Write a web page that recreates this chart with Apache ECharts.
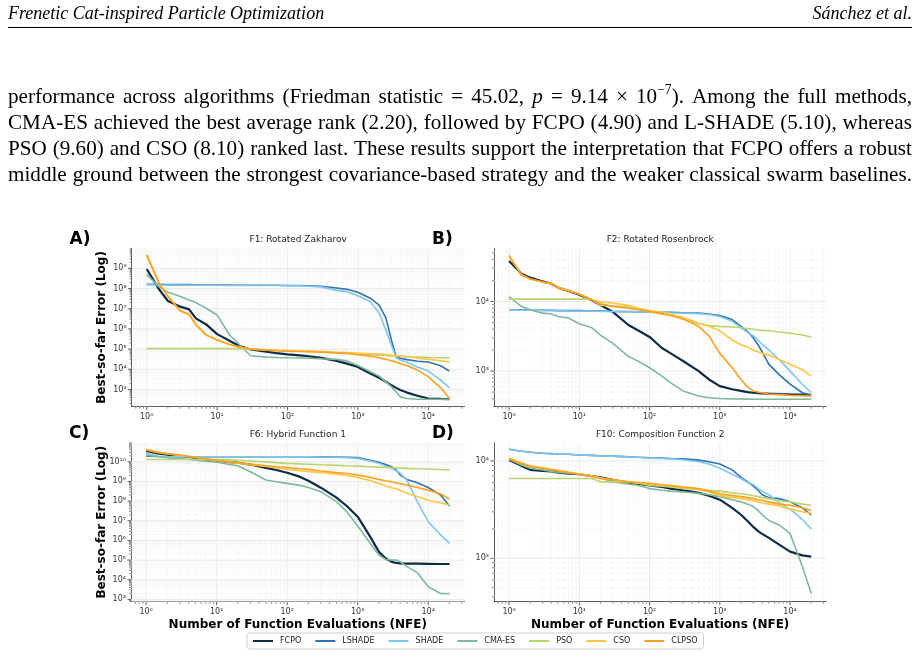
<!DOCTYPE html>
<html><head><meta charset="utf-8">
<script src="https://cdn.jsdelivr.net/npm/echarts@6/dist/echarts.min.js"></script>
<style>
html,body{margin:0;padding:0;background:#fff;}
#page{position:relative;width:920px;height:657px;overflow:hidden;background:#fff;}
#chart{position:absolute;left:0;top:0;width:920px;height:657px;}
.hdr{position:absolute;top:3px;font-family:'Liberation Serif','Times New Roman',serif;font-style:italic;font-size:18px;color:#000;white-space:nowrap;}
#rule{position:absolute;left:8px;top:27px;width:904px;height:0;border-top:1.2px solid #000;}
.pl{position:absolute;left:8px;width:932px;height:26px;line-height:26px;font-family:'Liberation Serif','Times New Roman',serif;font-size:21.8px;color:#000;display:flex;justify-content:space-between;white-space:nowrap;transform:scaleX(0.97);transform-origin:0 0;}
.pl sup{font-size:14px;line-height:0;vertical-align:0;position:relative;top:-9px;}
</style>
</head><body>
<div id="page">
<div id="chart"></div>
<div class="hdr" style="left:8px;">Frenetic Cat-inspired Particle Optimization</div>
<div class="hdr" style="right:8px;">Sánchez et al.</div>
<div id="rule"></div>
<div id="para"></div>
</div>
<script>
// ---------- page text ----------
const paraLines = [
 'performance across algorithms (Friedman statistic = 45.02, <i>p</i> = 9.14 × 10<sup>−7</sup>). Among the full methods,',
 'CMA-ES achieved the best average rank (2.20), followed by FCPO (4.90) and L-SHADE (5.10), whereas',
 'PSO (9.60) and CSO (8.10) ranked last. These results support the interpretation that FCPO offers a robust',
 'middle ground between the strongest covariance-based strategy and the weaker classical swarm baselines.'
];
const paraTops = [82.5, 108.5, 134.5, 160.5];

// ---------- data ----------
const algos = ['FCPO','LSHADE','SHADE','CMA-ES','PSO','CSO','CLPSO'];
const nfe = [1, 1.5, 2, 3, 4, 5, 7, 10, 15, 20, 30, 50, 70, 100, 150, 200, 300, 500, 700, 1000, 1500, 2000, 2500, 3000, 3500, 4000, 5000, 7000, 10000, 15000, 20000];

// F1: Rotated Zakharov
const f1_FCPO   = [9.3e8, 9.1e7, 2.4e7, 1.26e7, 9.3e6, 3.3e6, 1.66e6, 5.5e5, 2.6e5, 1.5e5, 9.5e4, 7.4e4, 6.3e4, 5.5e4, 4.9e4, 4.4e4, 3.7e4, 2.6e4, 1.9e4, 1.3e4, 6.2e3, 3.8e3, 2.4e3, 1.6e3, 1.2e3, 950, 700, 490, 355, 340, 330];
const f1_LSHADE = [1.6e8, 1.6e8, 1.55e8, 1.55e8, 1.55e8, 1.5e8, 1.5e8, 1.5e8, 1.5e8, 1.45e8, 1.45e8, 1.45e8, 1.45e8, 1.4e8, 1.4e8, 1.35e8, 1.3e8, 1.05e8, 9.1e7, 6.5e7, 3.3e7, 1.5e7, 3.5e6, 2.7e5, 4.2e4, 3.5e4, 3e4, 2.5e4, 2.3e4, 1.5e4, 8.1e3];
const f1_SHADE  = [1.55e8, 1.5e8, 1.5e8, 1.5e8, 1.45e8, 1.45e8, 1.45e8, 1.45e8, 1.4e8, 1.4e8, 1.4e8, 1.4e8, 1.4e8, 1.35e8, 1.35e8, 1.3e8, 1.2e8, 8.1e7, 6.9e7, 4.4e7, 2.2e7, 6.3e6, 8.7e5, 1.6e5, 3.7e4, 2.9e4, 2.2e4, 1.3e4, 8.1e3, 2.9e3, 1.2e3];
const f1_CMAES  = [5e8, 1.2e8, 6.5e7, 4e7, 2.7e7, 2e7, 1.05e7, 4.9e6, 5e5, 1.9e5, 4.7e4, 4e4, 3.8e4, 3.7e4, 3.6e4, 3.5e4, 3.3e4, 3.1e4, 2.6e4, 1.55e4, 7.6e3, 4.6e3, 2.4e3, 1.35e3, 760, 430, 355, 330, 330, 330, 330];
const f1_PSO    = [1.05e5, 1.05e5, 1.05e5, 1.05e5, 1.05e5, 1.05e5, 1.05e5, 1.05e5, 1.05e5, 1.05e5, 1.02e5, 9.2e4, 8.8e4, 8.5e4, 8e4, 7.7e4, 7.2e4, 6.6e4, 6.2e4, 5.8e4, 5.4e4, 5e4, 4.8e4, 4.6e4, 4.5e4, 4.4e4, 4.2e4, 4e4, 3.8e4, 3.7e4, 3.6e4];
const f1_CSO    = [4.4e9, 1.9e8, 4.2e7, 8e6, 5.5e6, 1.7e6, 5.2e5, 2.9e5, 1.75e5, 1.3e5, 1e5, 9.2e4, 8.8e4, 8.5e4, 8.1e4, 7.9e4, 7.5e4, 7e4, 6.7e4, 6.3e4, 5.9e4, 5.6e4, 5.3e4, 5e4, 4.8e4, 4.6e4, 4.2e4, 3.6e4, 3.1e4, 2.6e4, 2.3e4];
const f1_CLPSO  = [4.6e9, 1.8e8, 4e7, 7.6e6, 5.2e6, 1.55e6, 4.9e5, 2.8e5, 1.7e5, 1.26e5, 1e5, 8.9e4, 8.3e4, 7.9e4, 7.6e4, 7.4e4, 7.1e4, 6.5e4, 6e4, 5.2e4, 4.5e4, 3.7e4, 3.1e4, 2.6e4, 2.3e4, 1.95e4, 1.5e4, 9.1e3, 4.3e3, 1.2e3, 355];

// F2: Rotated Rosenbrock
const f2_FCPO   = [3.8e4, 2.5e4, 2.2e4, 1.94e4, 1.8e4, 1.58e4, 1.42e4, 1.25e4, 1.05e4, 8.9e3, 7.1e3, 4.6e3, 3.8e3, 3.1e3, 2.15e3, 1.8e3, 1.4e3, 1e3, 760, 610, 550, 520, 500, 490, 485, 480, 475, 470, 465, 460, 455];
const f2_LSHADE = [7.6e3, 7.6e3, 7.5e3, 7.5e3, 7.5e3, 7.4e3, 7.4e3, 7.4e3, 7.3e3, 7.3e3, 7.2e3, 7.2e3, 7.1e3, 7.1e3, 7e3, 7e3, 6.9e3, 6.8e3, 6.6e3, 6.3e3, 5.5e3, 4.4e3, 3.7e3, 3e3, 2.4e3, 1.9e3, 1.25e3, 890, 650, 490, 455];
const f2_SHADE  = [7.6e3, 7.5e3, 7.5e3, 7.4e3, 7.4e3, 7.4e3, 7.3e3, 7.3e3, 7.3e3, 7.2e3, 7.2e3, 7.1e3, 7.1e3, 7e3, 7e3, 6.9e3, 6.8e3, 6.7e3, 6.5e3, 6.1e3, 5.2e3, 4.2e3, 3.6e3, 3.2e3, 2.8e3, 2.45e3, 2e3, 1.47e3, 1e3, 650, 490];
const f2_CMAES  = [1.17e4, 8.5e3, 7.6e3, 6.8e3, 6.6e3, 6.1e3, 5.8e3, 4.8e3, 4.2e3, 3.3e3, 2.5e3, 1.63e3, 1.38e3, 1.12e3, 850, 680, 520, 440, 415, 405, 400, 398, 397, 396, 396, 395, 395, 395, 395, 395, 395];
const f2_PSO    = [1.08e4, 1.08e4, 1.08e4, 1.08e4, 1.08e4, 1.08e4, 1.08e4, 1.08e4, 1.08e4, 8.8e3, 8.7e3, 8.4e3, 7.8e3, 7.1e3, 6.6e3, 6.3e3, 5.6e3, 4.8e3, 4.5e3, 4.4e3, 4.3e3, 4.2e3, 4.1e3, 4e3, 3.9e3, 3.85e3, 3.8e3, 3.65e3, 3.5e3, 3.3e3, 3.1e3];
const f2_CSO    = [4.4e4, 2.45e4, 2.1e4, 1.9e4, 1.8e4, 1.6e4, 1.45e4, 1.28e4, 1.07e4, 9.8e3, 9.5e3, 8.8e3, 8e3, 7.4e3, 7e3, 6.6e3, 5.9e3, 4.9e3, 4.4e3, 3.8e3, 2.8e3, 2.4e3, 2.2e3, 2e3, 1.9e3, 1.8e3, 1.7e3, 1.47e3, 1.26e3, 1.05e3, 850];
const f2_CLPSO  = [4.6e4, 2.4e4, 2.1e4, 1.9e4, 1.82e4, 1.55e4, 1.42e4, 1.27e4, 1.05e4, 9.2e3, 8.5e3, 8e3, 7.6e3, 7.2e3, 6.7e3, 6.3e3, 5.6e3, 4.4e3, 3.2e3, 1.8e3, 1.12e3, 760, 590, 520, 500, 490, 470, 460, 450, 445, 440];

// F6: Hybrid Function 1
const f6_FCPO   = [3.6e10, 2.6e10, 2.3e10, 1.95e10, 1.74e10, 1.55e10, 1.3e10, 1.12e10, 9.6e9, 8.9e9, 7.2e9, 4.9e9, 3.8e9, 2.75e9, 1.74e9, 1.07e9, 4.8e8, 1.5e8, 5.6e7, 1.6e7, 1.55e6, 2.6e5, 1.2e5, 8.3e4, 7.1e4, 6.8e4, 6.6e4, 6.5e4, 6.4e4, 6.3e4, 6.3e4];
const f6_LSHADE = [1.95e10, 1.85e10, 1.8e10, 1.8e10, 1.8e10, 1.8e10, 1.8e10, 1.8e10, 1.8e10, 1.8e10, 1.8e10, 1.8e10, 1.8e10, 1.8e10, 1.8e10, 1.8e10, 1.75e10, 1.75e10, 1.7e10, 1.65e10, 1.2e10, 9.3e9, 7.3e9, 5.6e9, 3.8e9, 2.1e9, 1.26e9, 8.5e8, 4.9e8, 2e8, 5.6e7];
const f6_SHADE  = [2.6e10, 1.9e10, 1.8e10, 1.8e10, 1.8e10, 1.8e10, 1.8e10, 1.8e10, 1.8e10, 1.8e10, 1.8e10, 1.8e10, 1.8e10, 1.8e10, 1.8e10, 1.8e10, 1.75e10, 1.7e10, 1.6e10, 1.48e10, 1.08e10, 8.3e9, 6e9, 4.6e9, 3.5e9, 2.6e9, 1.17e9, 9.3e7, 8.9e6, 1.9e6, 7.1e5];
const f6_CMAES  = [2.2e10, 1.8e10, 1.6e10, 1.4e10, 1.3e10, 1.2e10, 1.08e10, 9.6e9, 7.2e9, 6.3e9, 3.1e9, 1.17e9, 9.6e8, 7.9e8, 6.3e8, 4.9e8, 3e8, 9.3e7, 2.9e7, 5.4e6, 7.1e5, 1.8e5, 1.07e5, 1e5, 1e5, 8.3e4, 4.6e4, 2.3e4, 4.4e3, 2e3, 1.95e3];
const f6_PSO    = [1.3e10, 1.3e10, 1.3e10, 1.3e10, 1.3e10, 1.3e10, 1.3e10, 1.3e10, 1.25e10, 1.2e10, 1.1e10, 9.8e9, 9e9, 8.3e9, 7.8e9, 7.5e9, 7e9, 6.5e9, 6.2e9, 6e9, 5.6e9, 5.3e9, 5.1e9, 5e9, 4.9e9, 4.8e9, 4.6e9, 4.4e9, 4.3e9, 4e9, 3.8e9];
const f6_CSO    = [4e10, 2.9e10, 2.5e10, 2.1e10, 1.85e10, 1.65e10, 1.35e10, 1.15e10, 9.6e9, 8.5e9, 7e9, 5.8e9, 5e9, 4.1e9, 3.5e9, 3.2e9, 2.8e9, 2.3e9, 2e9, 1.6e9, 1.1e9, 7.9e8, 6e8, 4.8e8, 4.2e8, 3.6e8, 2.5e8, 1.7e8, 1.1e8, 8e7, 6.3e7];
const f6_CLPSO  = [4.2e10, 3e10, 2.6e10, 2.2e10, 1.9e10, 1.7e10, 1.4e10, 1.2e10, 1e10, 8.9e9, 7.6e9, 6.3e9, 5.6e9, 5.1e9, 4.4e9, 4.1e9, 3.4e9, 2.8e9, 2.5e9, 2.1e9, 1.6e9, 1.26e9, 1.07e9, 9.5e8, 8.5e8, 7.6e8, 6.5e8, 4.9e8, 3.6e8, 2.3e8, 1.26e8];

// F10: Composition Function 2
const f10_FCPO   = [1.02e4, 8.9e3, 8.1e3, 7.9e3, 7.8e3, 7.6e3, 7.4e3, 7.3e3, 7e3, 6.8e3, 6.4e3, 6e3, 5.8e3, 5.6e3, 5.4e3, 5.2e3, 5e3, 4.7e3, 4.4e3, 4e3, 3.3e3, 2.8e3, 2.4e3, 2.1e3, 1.9e3, 1.78e3, 1.62e3, 1.38e3, 1.17e3, 1.07e3, 1.04e3];
const f10_LSHADE = [1.32e4, 1.26e4, 1.23e4, 1.2e4, 1.19e4, 1.18e4, 1.17e4, 1.15e4, 1.14e4, 1.13e4, 1.12e4, 1.1e4, 1.09e4, 1.08e4, 1.07e4, 1.06e4, 1.05e4, 1.02e4, 9.8e3, 9.3e3, 8.1e3, 6.8e3, 6.1e3, 5.5e3, 5e3, 4.5e3, 4.2e3, 4.1e3, 3.8e3, 3.3e3, 2.8e3];
const f10_SHADE  = [1.32e4, 1.26e4, 1.23e4, 1.2e4, 1.19e4, 1.18e4, 1.17e4, 1.15e4, 1.14e4, 1.13e4, 1.12e4, 1.1e4, 1.09e4, 1.07e4, 1.06e4, 1.05e4, 1.03e4, 9.8e3, 9.3e3, 8.4e3, 7.3e3, 6.6e3, 6e3, 5.7e3, 5.2e3, 4.9e3, 4.5e3, 3.7e3, 3.2e3, 2.5e3, 2e3];
const f10_CMAES  = [1.04e4, 9.1e3, 8.4e3, 8.1e3, 7.8e3, 7.6e3, 7.5e3, 7.3e3, 7e3, 6.7e3, 6.1e3, 5.8e3, 5.6e3, 5.2e3, 5e3, 4.9e3, 4.8e3, 4.65e3, 4.5e3, 4.3e3, 4e3, 3.8e3, 3.6e3, 3.4e3, 3.1e3, 2.8e3, 2.45e3, 2.2e3, 1.8e3, 820, 435];
const f10_PSO    = [6.6e3, 6.6e3, 6.6e3, 6.6e3, 6.6e3, 6.6e3, 6.6e3, 6.6e3, 6.6e3, 6.1e3, 6.1e3, 6.1e3, 5.9e3, 5.6e3, 5.5e3, 5.4e3, 5.2e3, 5.1e3, 5e3, 4.9e3, 4.7e3, 4.6e3, 4.5e3, 4.4e3, 4.3e3, 4.2e3, 4.1e3, 3.9e3, 3.8e3, 3.6e3, 3.5e3];
const f10_CSO    = [1.07e4, 9.6e3, 8.9e3, 8.5e3, 8.2e3, 8e3, 7.7e3, 7.4e3, 7e3, 6.7e3, 6.4e3, 6.1e3, 5.9e3, 5.8e3, 5.6e3, 5.5e3, 5.3e3, 5.1e3, 4.8e3, 4.4e3, 4.2e3, 4.1e3, 4e3, 3.9e3, 3.8e3, 3.7e3, 3.6e3, 3.45e3, 3.2e3, 3e3, 2.9e3];
const f10_CLPSO  = [1.04e4, 9.4e3, 8.8e3, 8.4e3, 8.1e3, 7.9e3, 7.6e3, 7.3e3, 6.9e3, 6.6e3, 6.4e3, 6.1e3, 6e3, 5.9e3, 5.7e3, 5.6e3, 5.4e3, 5.2e3, 4.9e3, 4.6e3, 4.4e3, 4.3e3, 4.2e3, 4.1e3, 4e3, 3.95e3, 3.8e3, 3.6e3, 3.5e3, 3.3e3, 3.1e3];

const panelTitles  = ['F1: Rotated Zakharov', 'F2: Rotated Rosenbrock', 'F6: Hybrid Function 1', 'F10: Composition Function 2'];
const panelLetters = ['A)', 'B)', 'C)', 'D)'];
const panelData = [
  [f1_FCPO, f1_LSHADE, f1_SHADE, f1_CMAES, f1_PSO, f1_CSO, f1_CLPSO],
  [f2_FCPO, f2_LSHADE, f2_SHADE, f2_CMAES, f2_PSO, f2_CSO, f2_CLPSO],
  [f6_FCPO, f6_LSHADE, f6_SHADE, f6_CMAES, f6_PSO, f6_CSO, f6_CLPSO],
  [f10_FCPO, f10_LSHADE, f10_SHADE, f10_CMAES, f10_PSO, f10_CSO, f10_CLPSO]
];
const xLimits = [0.61, 32800];
const yLimits = [[140, 9.8e9], [309, 5.8e4], [760, 9.3e10], [358, 1.54e4]];
const yAxisName = 'Best-so-far Error (Log)';
const xAxisName = 'Number of Function Evaluations (NFE)';

// ---------- styles / layout ----------
const colors = {'FCPO':'#0c2b47','LSHADE':'#3172b0','SHADE':'#7ec6f0','CMA-ES':'#7fb99b','PSO':'#b8d46f','CSO':'#fdc744','CLPSO':'#ffa01c'};
const widths = {'FCPO':2.2,'LSHADE':1.6,'SHADE':1.6,'CMA-ES':1.6,'PSO':1.6,'CSO':1.6,'CLPSO':1.6};
const grids = [
  {left:131.6, top:248.3, width:333, height:158.4},
  {left:494, top:248.3, width:332.3, height:158.4},
  {left:131, top:442.7, width:333.6, height:159},
  {left:494, top:442.7, width:332.3, height:159}
];
const FONT = 'DejaVu Sans';

// paragraph
const para = document.getElementById('para');
paraLines.forEach((ln, i) => {
  const d = document.createElement('div');
  d.className = 'pl';
  d.style.top = paraTops[i] + 'px';
  d.innerHTML = ln.split(' ').map(w => '<span>' + w + '</span>').join('');
  para.appendChild(d);
});

const SUP = {'0':'⁰','1':'¹','2':'²','3':'³','4':'⁴','5':'⁵','6':'⁶','7':'⁷','8':'⁸','9':'⁹','-':'⁻'};
function powLabel(v){
  const l = Math.log10(v), e = Math.round(l);
  if (Math.abs(l - e) > 1e-6) return '';
  return '10' + String(e).split('').map(c => SUP[c]).join('');
}

function guideSeries(pi){
  const [xmin, xmax] = xLimits, [ymin, ymax] = yLimits[pi];
  const items = [];
  for (let e = Math.floor(Math.log10(xmin)); e <= Math.ceil(Math.log10(xmax)); e++)
    for (let m = 1; m <= 9; m++){ const v = m * Math.pow(10, e); if (v >= xmin && v <= xmax) items.push([v, ymin, 0, m === 1 ? 1 : 0]); }
  for (let e = Math.floor(Math.log10(ymin)); e <= Math.ceil(Math.log10(ymax)); e++)
    for (let m = 1; m <= 9; m++){ const v = m * Math.pow(10, e); if (v >= ymin && v <= ymax) items.push([xmin, v, 1, m === 1 ? 1 : 0]); }
  return {
    type:'custom', xAxisIndex:pi, yAxisIndex:pi, data:items, silent:true, clip:false, z:1,
    renderItem(params, api){
      const cs = params.coordSys;
      const kind = api.value(2), major = api.value(3);
      const pt = api.coord([api.value(0), api.value(1)]);
      const gStroke = major ? '#e4e4e4' : '#f3f3f3', gW = major ? 0.8 : 0.6;
      const tLen = major ? 3.5 : 2, tW = major ? 0.8 : 0.6;
      if (kind === 0){
        const x = pt[0], yb = cs.y + cs.height;
        return {type:'group', children:[
          {type:'line', shape:{x1:x, y1:cs.y, x2:x, y2:yb}, style:{stroke:gStroke, lineWidth:gW}},
          {type:'line', shape:{x1:x, y1:yb, x2:x, y2:yb + tLen}, style:{stroke:'#333', lineWidth:tW}}
        ]};
      } else {
        const y = pt[1], xl = cs.x;
        return {type:'group', children:[
          {type:'line', shape:{x1:xl, y1:y, x2:xl + cs.width, y2:y}, style:{stroke:gStroke, lineWidth:gW}},
          {type:'line', shape:{x1:xl - tLen, y1:y, x2:xl, y2:y}, style:{stroke:'#333', lineWidth:tW}}
        ]};
      }
    }
  };
}

const option = {
  animation:false,
  grid: grids.map(g => Object.assign({containLabel:false, outerBoundsMode:'none'}, g)),
  xAxis: grids.map((g, i) => ({
    type:'log', logBase:10, gridIndex:i, min:xLimits[0], max:xLimits[1],
    axisLine:{show:true, lineStyle:{color:'#333', width:0.8}},
    axisTick:{show:false}, splitLine:{show:false}, minorTick:{show:false}, minorSplitLine:{show:false},
    axisLabel:{fontFamily:FONT, fontSize:8, color:'#333', margin:6, formatter:powLabel}
  })),
  yAxis: grids.map((g, i) => ({
    type:'log', logBase:10, gridIndex:i, min:yLimits[i][0], max:yLimits[i][1],
    axisLine:{show:true, lineStyle:{color:'#333', width:0.8}},
    axisTick:{show:false}, splitLine:{show:false}, minorTick:{show:false}, minorSplitLine:{show:false},
    axisLabel:{fontFamily:FONT, fontSize:8, color:'#333', margin:5, formatter:powLabel}
  })),
  legend:{
    data:algos, left:247, top:633, icon:'rect', itemWidth:20, itemHeight:2, itemGap:14,
    padding:[4,6], borderColor:'#d0d0d0', borderWidth:1, borderRadius:3, selectedMode:false,
    textStyle:{fontFamily:FONT, fontSize:8, color:'#222', padding:[0,0,0,2]}
  },
  graphic: [],
  series: []
};

grids.forEach((g, pi) => {
  option.series.push(guideSeries(pi));
  algos.forEach((a, ai) => {
    const vals = panelData[pi][ai];
    option.series.push({
      type:'line', name:a, xAxisIndex:pi, yAxisIndex:pi,
      data: nfe.map((x, k) => [x, vals[k]]),
      symbol:'none', showSymbol:false, smooth:false, z:2 + ai * 0.01,
      lineStyle:{color:colors[a], width:widths[a]}, itemStyle:{color:colors[a]},
      emphasis:{disabled:true}, silent:true
    });
  });
  const cx = g.left + g.width / 2;
  option.graphic.push({type:'text', x:cx, y:g.top - 8.5, style:{text:panelTitles[pi], font:'9px "DejaVu Sans"', fill:'#222', align:'center', verticalAlign:'middle', textAlign:'center', textVerticalAlign:'middle'}});
  option.graphic.push({type:'text', x:g.left - 62, y:g.top - 9, style:{text:panelLetters[pi], font:'bold 17px "DejaVu Sans"', fill:'#000', align:'left', verticalAlign:'middle', textAlign:'left', textVerticalAlign:'middle'}});
  if (pi === 0 || pi === 2){
    option.graphic.push({type:'text', x:101.7, y:g.top + g.height / 2, rotation:Math.PI / 2, style:{text:yAxisName, font:'bold 12px "DejaVu Sans"', fill:'#000', align:'center', verticalAlign:'middle', textAlign:'center', textVerticalAlign:'middle'}});
  }
  if (pi === 2 || pi === 3){
    option.graphic.push({type:'text', x:cx, y:625, style:{text:xAxisName, font:'bold 12px "DejaVu Sans"', fill:'#000', align:'center', verticalAlign:'middle', textAlign:'center', textVerticalAlign:'middle'}});
  }
});

const chart = echarts.init(document.getElementById('chart'), null, {renderer:'canvas'});
chart.setOption(option);
</script>
</body></html>
